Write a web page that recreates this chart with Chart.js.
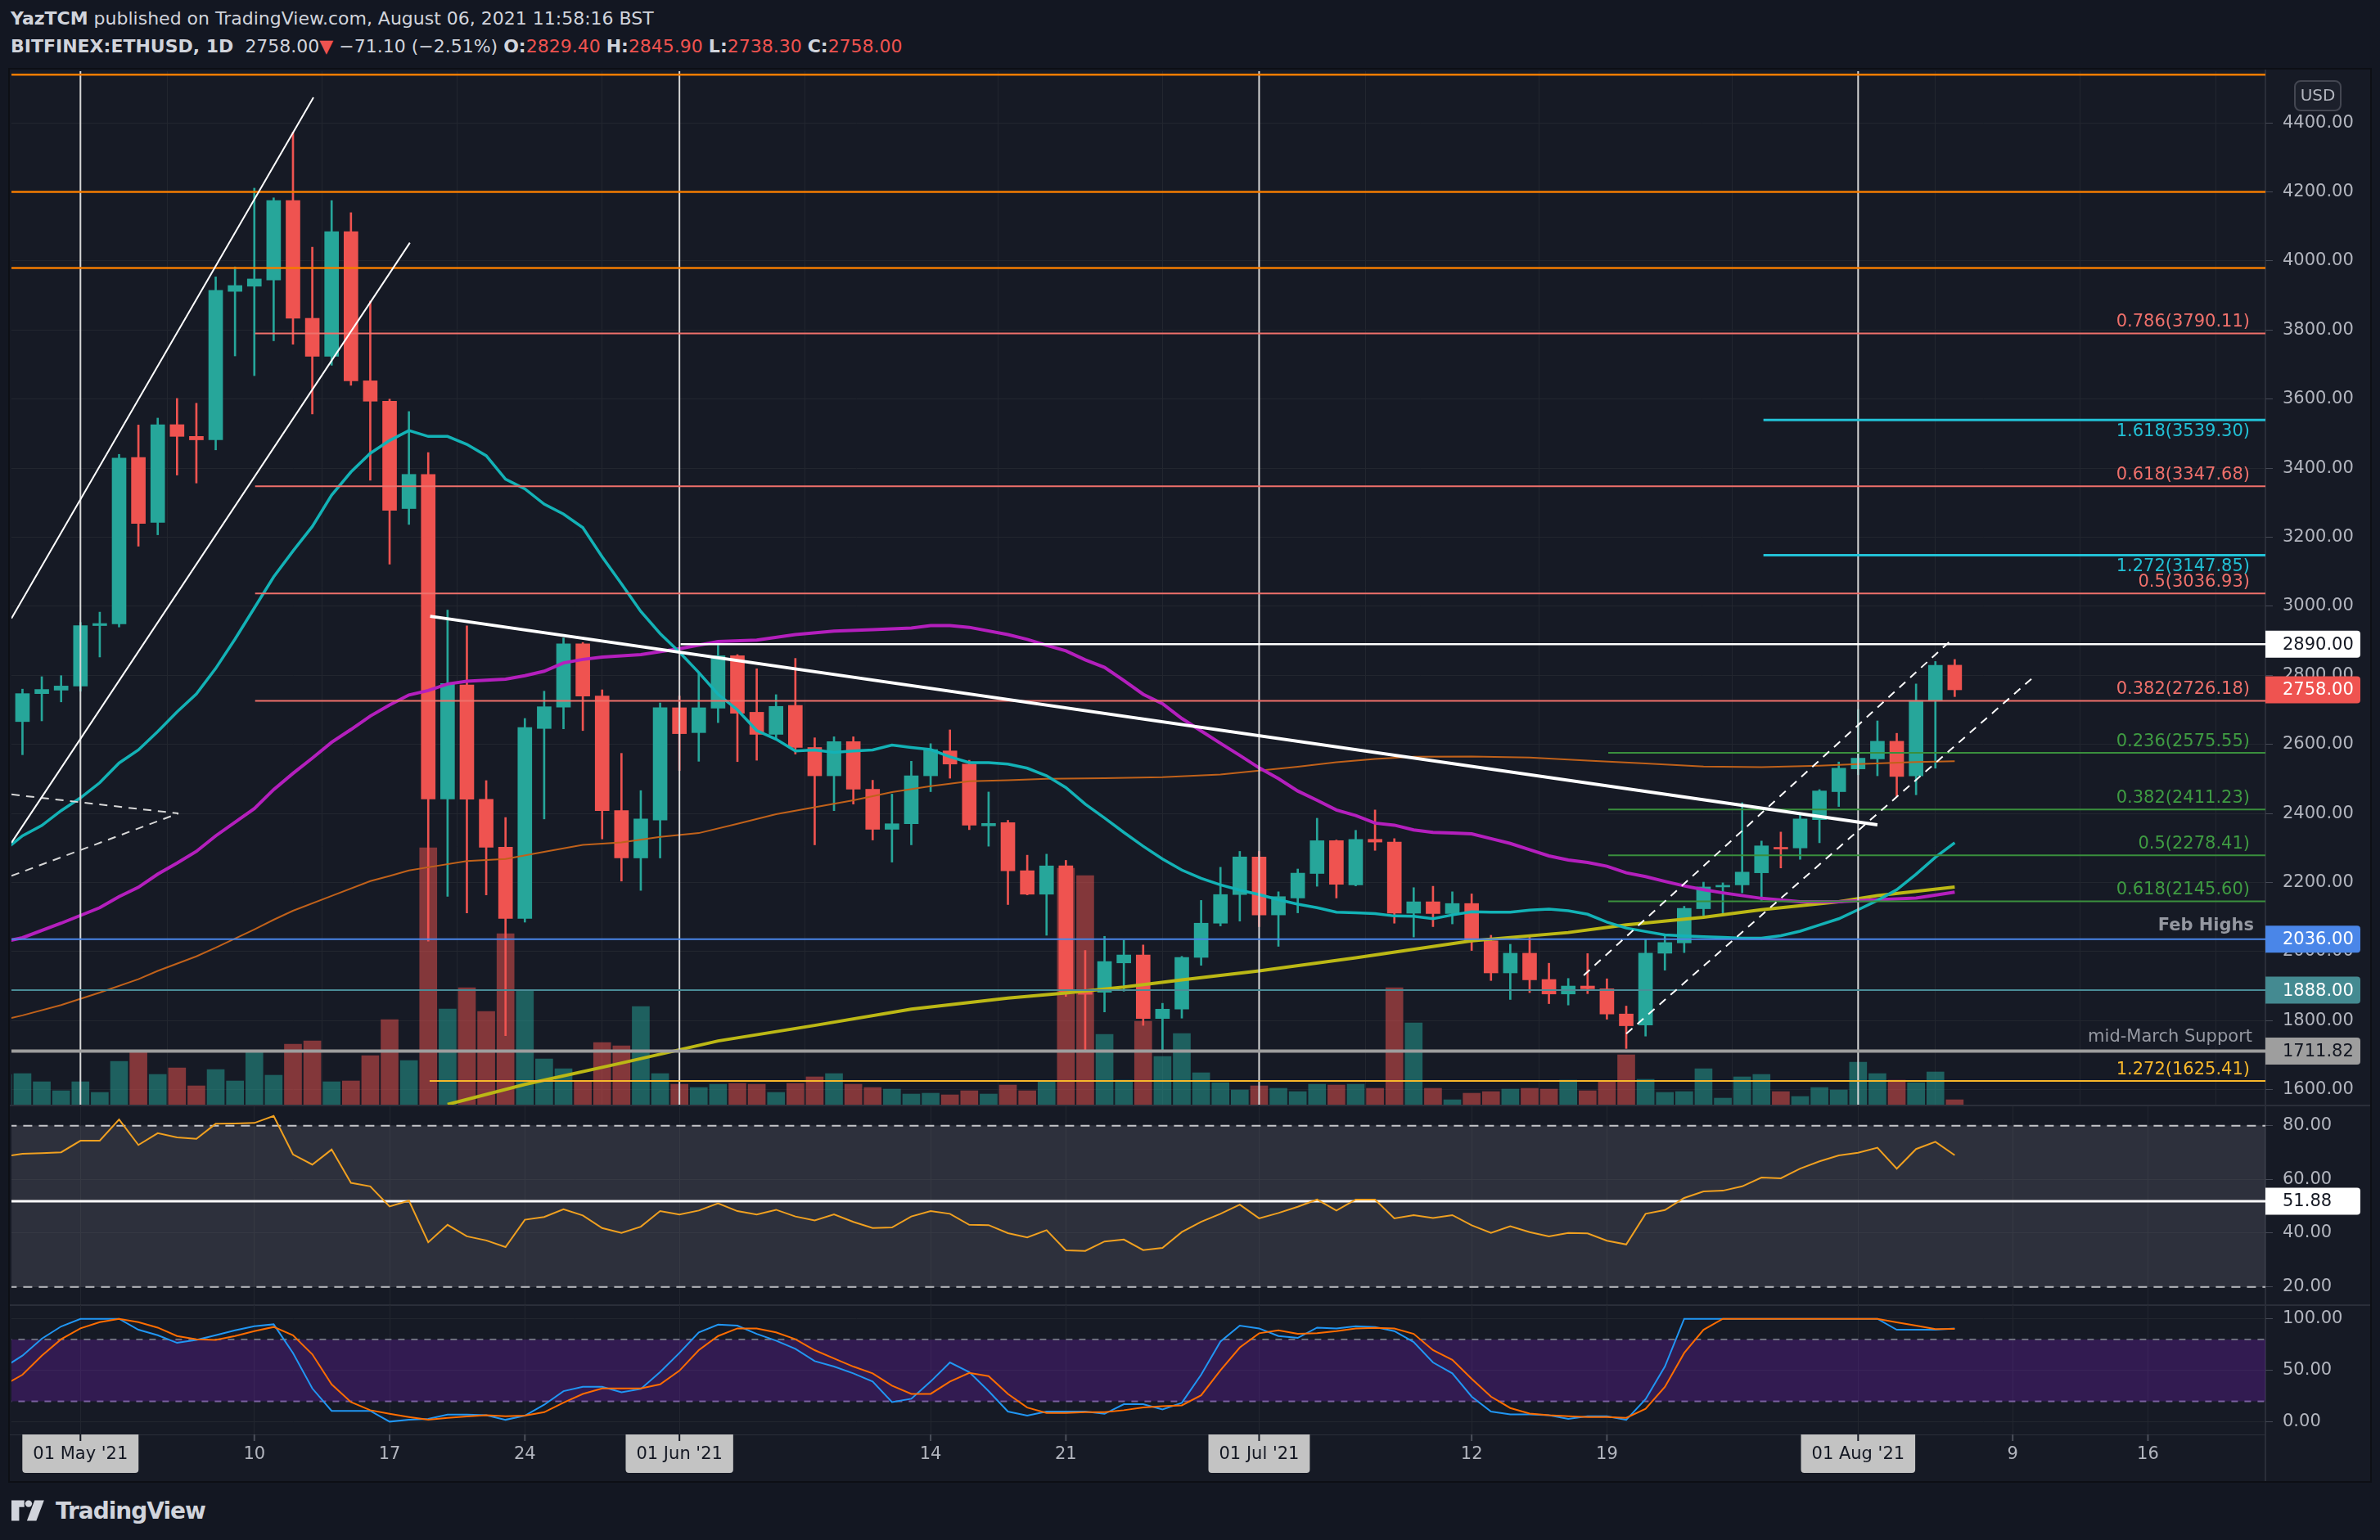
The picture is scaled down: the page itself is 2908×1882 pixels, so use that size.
<!DOCTYPE html>
<html>
<head>
<meta charset="utf-8">
<script src="https://cdn.jsdelivr.net/npm/chart.js@4.4.1/dist/chart.umd.min.js"></script>
<style>
  html, body { margin: 0; padding: 0; }
  body { width: 2908px; height: 1882px; position: relative; overflow: hidden; background: #131722;
         font-family: "DejaVu Sans", sans-serif; color: #d1d4dc; }
  .hdr { position: absolute; left: 13px; font-size: 22px; line-height: 26px; white-space: nowrap; }
  .dn { color: #ef5350; }
  #frame { position: absolute; left: 12px; top: 85px; width: 2884px; height: 1725px; background: #161a25;
           box-shadow: 0 0 0 2px #0d0f15; }
  .sep { position: absolute; background: #2a2e39; }
  canvas { position: absolute; left: 0; }
  #logo { position: absolute; left: 14px; top: 1829px; height: 34px; display: flex; align-items: center; }
  #logo span { font-weight: bold; font-size: 28px; margin-left: 10px; letter-spacing: -1px; color: #d1d4dc; }
</style>
</head>
<body>
<div class="hdr" style="top:10px"><b>YazTCM</b> published on TradingView.com, August 06, 2021 11:58:16 BST</div>
<div class="hdr" style="top:44px"><b>BITFINEX:ETHUSD, 1D</b>&nbsp; 2758.00<span class="dn">▼</span> −71.10 (−2.51%) <b>O:</b><span class="dn">2829.40</span> <b>H:</b><span class="dn">2845.90</span> <b>L:</b><span class="dn">2738.30</span> <b>C:</b><span class="dn">2758.00</span></div>
<div id="frame"></div>
<div class="sep" style="left:12px;top:1350px;width:2884px;height:2px"></div>
<div class="sep" style="left:12px;top:1594px;width:2884px;height:2px"></div>
<div class="sep" style="left:12px;top:1753px;width:2755px;height:1px"></div>
<div class="sep" style="left:2767px;top:85px;width:2px;height:1725px"></div>
<canvas id="price" width="2896" height="1263" style="top:87px"></canvas>
<canvas id="rsi" width="2896" height="242" style="top:1352px"></canvas>
<canvas id="stoch" width="2896" height="213" style="top:1595px"></canvas>
<div id="logo">
  <svg width="44" height="26" viewBox="0 0 42 24"><path fill="#d1d4dc" d="M0 0h15v8H9v16H0V8z"/><circle cx="20" cy="4" r="4" fill="#d1d4dc"/><path fill="#d1d4dc" d="M27 0h11l-9 24H18z"/></svg>
  <span>TradingView</span>
</div>
<script>
// ---- daily candles, 27 Apr 2021 .. 06 Aug 2021 (day 0 = 01 May) ----
const firstDay = -4;
const opens = [2535,2666,2747,2757,2769,2944,2949,3431,3243,3526,
  3492,3482,3912,3927,3945,4175,3834,3724,4085,3653,
  3594,3283,3382,2442,2772,2441,2302,2096,2646,2708,
  2891,2740,2408,2271,2381,2706,2634,2705,2857,2693,
  2629,2713,2591,2509,2608,2470,2354,2370,2509,2581,
  2543,2364,2373,2234,2166,2248,1884,1882,1967,1990,
  1806,1833,1983,2082,2165,2274,2106,2155,2226,2321,
  2193,2325,2317,2111,2144,2110,2139,2031,1938,1995,
  1919,1877,1900,1892,1819,1787,1995,2025,2124,2187,
  2193,2228,2300,2300,2382,2463,2529,2558,2609,2509,
  2727,2829.4];
const highs = [2680,2760,2796,2799,2953,2983,3440,3525,3545,3602,
  3588,3954,3983,4211,4183,4373,4040,4175,4140,3884,
  3600,3564,3445,2989,2943,2495,2388,2675,2754,2908,
  2895,2758,2574,2466,2720,2740,2806,2887,2860,2819,
  2744,2849,2619,2622,2622,2496,2456,2551,2602,2642,
  2554,2462,2380,2279,2282,2264,2003,2044,2033,2019,
  1850,1986,2148,2244,2290,2290,2173,2239,2386,2323,
  2351,2410,2327,2185,2189,2173,2167,2047,2021,2042,
  1966,1922,1994,1921,1842,2035,2051,2131,2201,2199,
  2431,2320,2346,2402,2469,2549,2701,2668,2632,2775,
  2840,2845.9];
const lows = [2510,2570,2668,2723,2754,2853,2940,3174,3207,3380,
  3357,3453,3725,3668,3769,3759,3557,3698,3640,3365,
  3122,3237,2030,2160,2112,2164,1756,2085,2384,2645,
  2640,2326,2204,2177,2271,2524,2551,2663,2550,2554,
  2615,2572,2309,2408,2427,2323,2259,2309,2463,2502,
  2353,2305,2136,2164,2047,1870,1715,1825,1885,1786,
  1715,1807,1960,2074,2088,2072,2015,2112,2189,2155,
  2190,2293,2082,2042,2072,2080,2003,1916,1861,1881,
  1849,1845,1878,1804,1719,1755,1946,1997,2103,2110,
  2170,2148,2242,2267,2315,2420,2512,2509,2449,2454,
  2531,2738.3];
const closes = [2662,2747,2759,2769,2944,2950,3429,3240,3526,3492,
  3482,3915,3929,3948,4175,3834,3724,4085,3653,3594,
  3278,3382,2442,2776,2441,2302,2096,2649,2709,2891,
  2740,2408,2271,2384,2706,2631,2706,2857,2690,2629,
  2710,2591,2509,2608,2470,2354,2370,2509,2585,2543,
  2366,2371,2234,2166,2248,1884,1876,1971,1990,1806,
  1833,1983,2082,2165,2274,2106,2159,2227,2321,2195,
  2325,2317,2111,2144,2110,2139,2031,1938,1995,1918,
  1877,1900,1892,1819,1785,1995,2026,2125,2187,2191,
  2230,2306,2297,2384,2465,2531,2560,2609,2507,2727,
  2829,2758];
const volumes = [37,38,28,17,28,15,53,64,37,45,
  23,43,29,64,36,74,78,28,29,60,
  104,54,314,117,143,114,209,140,56,44,
  29,76,72,120,38,25,21,25,26,25,
  15,26,34,38,25,21,19,13,14,12,
  17,13,24,17,28,289,280,86,30,102,
  59,87,39,27,18,23,20,16,25,24,
  25,20,143,100,20,6,14,16,19,20,
  19,30,17,28,61,31,15,16,44,8,
  34,37,16,10,21,18,52,38,30,27,
  40,6];
const rsi = [68.5,69.5,69.8,70.1,74.4,74.4,82.3,72.8,77.2,75.6,
  75.1,80.7,80.8,81.0,83.6,69.3,65.5,71.1,58.7,57.4,
  49.9,52.1,36.6,43.1,38.8,37.3,34.8,45.0,46.0,48.9,
  46.6,41.9,40.1,42.4,48.2,46.9,48.4,51.1,48.2,46.9,
  48.7,46.2,44.7,47.0,44.2,41.9,42.1,46.2,48.2,47.2,
  43.1,43.0,40.0,38.4,41.1,33.6,33.4,36.9,37.6,33.7,
  34.5,40.4,44.2,47.2,50.6,45.5,47.5,49.8,52.5,48.4,
  52.5,52.5,45.5,46.7,45.6,46.7,42.9,40.1,42.6,40.4,
  38.8,40.1,39.9,37.2,35.8,47.2,48.6,53.1,55.5,55.8,
  57.4,60.7,60.4,64.0,66.7,68.9,69.9,71.8,64.0,71.3,
  74.0,69.0];
const stochK = [52.4,64.3,80.7,92.6,100,100,100,89.4,84.1,76.7,
  79.6,84.1,88.9,92.9,94.7,66.9,32.5,10.8,10.8,10.8,
  0.3,2.1,2.9,7.1,7.1,6.6,2.1,6.1,16.7,29.9,
  34.1,34.1,28.8,32,48.4,66.9,86.8,94.4,93.4,85.4,
  78.8,70.9,59,53.7,47.1,39.2,19.3,22.5,39.2,57.7,
  48.4,29.9,10.1,6.1,10.1,10.1,10.1,7.9,17.2,17.2,
  12.2,18.5,45.8,78,93.4,90.7,83.3,81.5,91.5,90.7,
  92.9,92.1,88.1,77.5,57.7,47.1,24.6,10.1,7.4,7.4,
  6.6,2.9,5.6,5.6,2.1,22,53.7,100,100,100,
  100,100,100,100,100,100,100,100,89.4,89.4,
  89.4,90.7];
const stochD = [35.2,45.8,64.3,80.2,90.7,96.8,100,96.8,91.5,83.3,
  80.2,79.6,83.3,88.1,92.1,84.1,65.6,36.5,19.3,11.4,
  7.9,4.8,2.1,4,5.3,6.6,5.6,6.1,9.5,18.8,
  27.2,32.5,32.5,32.5,36.5,49.7,69.6,83.3,90.7,90.7,
  86.8,80.2,69.6,61.6,53.7,47.1,35.2,27.2,27.2,39.2,
  47.6,44.4,27.2,14,8.7,8.7,9.5,9.5,11.4,14,
  15.3,16.1,25.9,50,72.2,86,88.9,85.4,86,88.1,
  90.7,91.3,90.7,85.4,69.6,60.3,41.8,24.6,13.5,8.2,
  6.6,5.6,4.8,4.8,4,12.7,33.9,66.9,89.4,100,
  100,100,100,100,100,100,100,100,96.6,93.4,
  90,90.2];

// ---- moving averages: [day, price] ----
const ema20 = [[-4,2290],[-3,2335],[-2,2365],[-1,2408],[0,2445],[1,2489],[2,2546],[3,2584],[4,2637],[5,2694],
  [6,2746],[7,2820],[8,2905],[9,2995],[10,3085],[11,3160],[12,3231],[13,3322],[14,3389],[15,3443],
  [16,3480],[17,3509],[18,3492],[19,3492],[20,3469],[21,3436],[22,3368],[23,3340],[24,3296],[25,3267],
  [26,3228],[27,3143],[28,3065],[29,2985],[30,2921],[31,2867],[32,2808],[33,2745],[34,2700],[35,2640],
  [36,2615],[37,2581],[38,2584],[39,2577],[40,2581],[41,2584],[42,2598],[43,2591],[44,2585],[45,2564],
  [46,2547],[47,2547],[48,2543],[49,2531],[50,2509],[51,2475],[52,2427],[53,2387],[54,2345],[55,2305],
  [56,2268],[57,2236],[58,2212],[59,2193],[60,2178],[61,2165],[62,2150],[63,2137],[64,2127],[65,2114],
  [66,2112],[67,2110],[68,2103],[69,2102],[70,2095],[71,2106],[72,2115],[73,2114],[74,2114],[75,2120],
  [76,2123],[77,2118],[78,2108],[79,2085],[80,2068],[81,2058],[82,2048],[83,2045],[84,2043],[85,2041],
  [86,2039],[87,2039],[88,2046],[89,2059],[90,2077],[91,2095],[92,2121],[93,2148],[94,2179],[95,2224],
  [96,2273],[97,2315]];
const sma50 = [[-4,2028],[-3,2040],[-1,2082],[1,2127],[2,2159],[3,2186],[4,2224],[5,2256],[6,2290],[7,2335],
  [9,2414],[10,2469],[11,2516],[12,2560],[13,2606],[14,2643],[15,2682],[16,2714],[17,2743],[18,2756],
  [19,2775],[20,2783],[22,2789],[23,2799],[24,2812],[25,2836],[26,2846],[27,2853],[29,2860],[31,2877],
  [33,2898],[35,2902],[37,2918],[39,2928],[41,2932],[43,2937],[44,2944],[45,2944],[46,2939],[48,2918],
  [49,2904],[50,2887],[51,2871],[52,2845],[53,2823],[54,2785],[55,2745],[56,2718],[57,2675],[58,2639],
  [59,2603],[60,2568],[61,2532],[62,2501],[63,2465],[64,2438],[65,2410],[66,2394],[67,2372],[68,2366],
  [69,2352],[70,2345],[71,2343],[72,2341],[73,2327],[74,2313],[75,2295],[76,2277],[77,2265],[78,2258],
  [79,2247],[80,2228],[81,2217],[82,2203],[83,2190],[84,2179],[85,2170],[87,2154],[89,2144],[91,2144],
  [93,2150],[95,2155],[97,2172]];
const sma100 = [[-4,1802],[-3,1815],[-1,1845],[1,1881],[3,1920],[4,1944],[6,1986],[7,2011],[9,2064],[10,2092],
  [11,2118],[13,2161],[15,2204],[16,2219],[17,2235],[18,2244],[20,2262],[22,2268],[24,2289],[26,2309],
  [28,2316],[30,2332],[32,2343],[34,2370],[36,2398],[38,2418],[40,2438],[42,2462],[44,2479],[46,2493],
  [48,2496],[50,2500],[53,2502],[56,2505],[59,2513],[61,2524],[63,2535],[65,2548],[67,2558],[69,2564],
  [72,2565],[75,2562],[78,2553],[81,2545],[84,2536],[87,2534],[90,2538],[92,2543],[95,2549],[97,2551]];
const sma200 = [[19,1557],[23,1615],[28,1677],[33,1741],[38,1786],[43,1833],[48,1865],[51,1880],[54,1897],
  [57,1918],[61,1944],[66,1982],[72,2031],[77,2055],[80,2077],[84,2099],[87,2121],[91,2144],[93,2162],[97,2187]];

// ---- drawings ----
const channelUpper = [[-3.57,2965],[12.06,4474]];
const channelLower = [[-3.57,2315],[17.05,4053]];
const wedgeTop = [[-3.57,2455],[5.07,2400]];
const wedgeBottom = [[-3.57,2219],[5.07,2400]];
const downTrend = [[18.1,2971],[93.0,2367]];
const riseUpper = [[77.8,1931],[96.9,2906]];
const riseLower = [[80.0,1762],[101.1,2796]];
const monthStarts = [0, 31, 61, 92];

const orangeLevels = [4540, 4200, 3980];
const redFibRatios = ['0.786', '0.618', '0.5', '0.382'];
const redFibPrices = [3790.11, 3347.68, 3036.93, 2726.18];
const cyanFibRatios = ['1.618', '1.272'];
const cyanFibPrices = [3539.30, 3147.85];
const greenFibRatios = ['0.236', '0.382', '0.5', '0.618'];
const greenFibPrices = [2575.55, 2411.23, 2278.41, 2145.60];
const yellowFibRatios = ['1.272'];
const yellowFibPrices = [1625.41];
const resistance = 2890, febHigh = 2036, support1888 = 1888, midMarch = 1711.82, lastPrice = 2758;
const rsiLevel = 51.88;

// ---- axes ----
const xMin = -3.57, xMax = 113.08;
const xTickDays = [0, 9, 16, 23, 31, 44, 51, 61, 72, 79, 92, 100, 107];
const xTickLabels = ["01 May '21", "10", "17", "24", "01 Jun '21", "14", "21", "01 Jul '21", "12", "19", "01 Aug '21", "9", "16"];
const priceTicks = [1600,1800,2000,2200,2400,2600,2800,3000,3200,3400,3600,3800,4000,4200,4400];
const rsiTicks = [80, 60, 40, 20];
const stochTicks = [100, 50, 0];

const FONT = '21px "DejaVu Sans"';
const AXIS_TXT = '#b2b5be';
const UP = '#26a69a', DOWN = '#ef5350';

const xs = opens.map((_, i) => firstDay + i);
const isUp = closes.map((c, i) => c >= opens[i]);
const candleCol = isUp.map(u => u ? UP : DOWN);
const volCol = isUp.map(u => u ? 'rgba(38,166,154,0.5)' : 'rgba(239,83,80,0.5)');

const pts = arr => arr.map(([x, y]) => ({x, y}));
const series = vals => vals.map((y, i) => ({x: xs[i], y}));
function line(data, color, width, order, dash) {
  return {type: 'line', data, borderColor: color, borderWidth: width, pointRadius: 0,
          borderDash: dash || [], order, tension: 0, fill: false};
}
function hLine(value, from, color, width, order, dash) {
  return line([{x: from, y: value}, {x: xMax + 2, y: value}], color, width, order, dash);
}

function baseOptions(yMin, yMax, yTicks, xHeight) {
  return {
    responsive: false, animation: false,
    layout: {padding: {left: 14, right: 0, top: 0, bottom: 0}},
    plugins: {legend: {display: false}, tooltip: {enabled: false}},
    scales: {
      x: {type: 'linear', min: xMin, max: xMax, offset: false,
          grid: {color: '#22262f', drawTicks: false}, border: {display: false},
          ticks: {display: false},
          afterBuildTicks: s => { s.ticks = xTickDays.map(v => ({value: v})); },
          afterFit: s => { s.height = xHeight; }},
      y: {position: 'right', min: yMin, max: yMax,
          grid: {color: '#22262f', tickColor: '#454955', tickLength: 9},
          border: {display: false}, ticks: {display: false},
          afterBuildTicks: s => { s.ticks = yTicks.map(v => ({value: v})); },
          afterFit: s => { s.width = 128; }}
    }
  };
}

function tag(ctx, ax, py, text, bg, fg) {
  ctx.fillStyle = bg;
  ctx.beginPath();
  ctx.roundRect(ax, py - 16.5, 116, 33, [0, 4, 4, 0]);
  ctx.fill();
  ctx.fillStyle = fg;
  ctx.fillText(text, ax + 21, py + 1);
}

function axisPlugin(id, ticks, tags, extra) {
  return {
    id,
    afterDraw(chart) {
      const {ctx, chartArea} = chart;
      const y = chart.scales.y, ax = chartArea.right;
      ctx.save();
      if (extra) extra(chart);
      ctx.font = FONT;
      ctx.textBaseline = 'middle';
      ctx.textAlign = 'left';
      ctx.fillStyle = AXIS_TXT;
      ticks.forEach(v => ctx.fillText(v.toFixed(2), ax + 21, y.getPixelForValue(v)));
      tags.forEach(t => tag(ctx, ax, y.getPixelForValue(t[0]), t[1], t[2], t[3]));
      ctx.restore();
    }
  };
}

function fibText(ctx, y, ratios, prices, color, below) {
  ctx.fillStyle = color;
  ctx.textAlign = 'right';
  ctx.textBaseline = below ? 'top' : 'bottom';
  ratios.forEach((r, i) => {
    const py = y.getPixelForValue(prices[i]);
    ctx.fillText(r + '(' + prices[i].toFixed(2) + ')', 2749, below ? py + 4 : py - 3);
  });
}

function priceExtras(chart) {
  const {ctx, chartArea} = chart;
  const y = chart.scales.y;
  ctx.font = FONT;
  fibText(ctx, y, redFibRatios, redFibPrices, '#ef706b', false);
  fibText(ctx, y, cyanFibRatios, cyanFibPrices, '#22c1d6', true);
  fibText(ctx, y, greenFibRatios, greenFibPrices, '#3f9c42', false);
  fibText(ctx, y, yellowFibRatios, yellowFibPrices, '#f9b82b', false);
  ctx.fillStyle = '#9598a1';
  ctx.textBaseline = 'bottom';
  ctx.font = 'bold 21px "DejaVu Sans"';
  ctx.fillText('Feb Highs', 2754, y.getPixelForValue(febHigh) - 6);
  ctx.font = FONT;
  ctx.fillText('mid-March Support', 2752, y.getPixelForValue(midMarch) - 6);
  // currency badge
  const bx = chartArea.right + 36, by = chartArea.top + 12;
  ctx.beginPath();
  ctx.roundRect(bx, by, 56, 36, 7);
  ctx.fillStyle = '#1c202b';
  ctx.fill();
  ctx.strokeStyle = '#434651';
  ctx.lineWidth = 2;
  ctx.stroke();
  ctx.fillStyle = AXIS_TXT;
  ctx.textAlign = 'center';
  ctx.textBaseline = 'middle';
  ctx.font = '20px "DejaVu Sans"';
  ctx.fillText('USD', bx + 28, by + 19);
}

// ---- price pane ----
const priceDatasets = [
  {type: 'bar', data: series(volumes), yAxisID: 'v', backgroundColor: volCol, barThickness: 21, grouped: false, order: 100},
  {type: 'bar', data: xs.map((x, i) => ({x, y: [lows[i], highs[i]]})), backgroundColor: candleCol, barThickness: 2, grouped: false, order: 90},
  {type: 'bar', data: xs.map((x, i) => ({x, y: [opens[i], closes[i]]})), backgroundColor: candleCol, barThickness: 17, grouped: false, minBarLength: 2, order: 80},
  line(pts(sma100), '#c0611a', 2, 60),
  line(pts(sma200), '#bcb815', 4, 55),
  line(pts(sma50), '#b41fbd', 4, 50),
  line(pts(ema20), '#13b2b6', 3.5, 45),
];
monthStarts.forEach(d => priceDatasets.push(line([{x: d, y: 1400}, {x: d, y: 4700}], '#d6d6d6', 2, 40)));
orangeLevels.forEach(v => priceDatasets.push(hLine(v, xMin - 1, '#f57c00', 2.5, 30)));
redFibPrices.forEach(v => priceDatasets.push(hLine(v, 9.04, '#ef706b', 2, 30)));
cyanFibPrices.forEach(v => priceDatasets.push(hLine(v, 87.1, '#22c1d6', 3, 30)));
greenFibPrices.forEach(v => priceDatasets.push(hLine(v, 79.07, '#3a8f3d', 2, 30)));
yellowFibPrices.forEach(v => priceDatasets.push(hLine(v, 18.07, '#f9b82b', 2, 30)));
priceDatasets.push(hLine(febHigh, xMin - 1, '#4a86e8', 2, 30));
priceDatasets.push(hLine(support1888, xMin - 1, '#4a8c97', 2, 30));
priceDatasets.push(hLine(midMarch, xMin - 1, '#9e9e9e', 4, 30));
priceDatasets.push(hLine(resistance, 31.06, '#ffffff', 2.5, 25));
priceDatasets.push(line(pts(channelUpper), '#ffffff', 2, 20));
priceDatasets.push(line(pts(channelLower), '#ffffff', 2, 20));
priceDatasets.push(line(pts(wedgeTop), '#d8d8d8', 2, 20, [10, 8]));
priceDatasets.push(line(pts(wedgeBottom), '#d8d8d8', 2, 20, [10, 8]));
priceDatasets.push(line(pts(riseUpper), '#ffffff', 2, 20, [10, 8]));
priceDatasets.push(line(pts(riseLower), '#ffffff', 2, 20, [10, 8]));
priceDatasets.push(line(pts(downTrend), '#ffffff', 4, 15));

const priceOpts = baseOptions(1556.4, 4549.8, priceTicks, 0);
priceOpts.scales.v = {display: false, min: 0, max: 1263};
new Chart(document.getElementById('price'), {
  type: 'bar',
  data: {datasets: priceDatasets},
  options: priceOpts,
  plugins: [axisPlugin('priceAxis', priceTicks, [
    [resistance, resistance.toFixed(2), '#ffffff', '#131722'],
    [lastPrice, lastPrice.toFixed(2), '#ef5350', '#ffffff'],
    [febHigh, febHigh.toFixed(2), '#4a86e8', '#ffffff'],
    [support1888, support1888.toFixed(2), '#448a91', '#ffffff'],
    [midMarch, midMarch.toFixed(2), '#9e9e9e', '#131722'],
  ], priceExtras)]
});

// ---- RSI pane ----
new Chart(document.getElementById('rsi'), {
  type: 'line',
  data: {datasets: [
    Object.assign(hLine(80, xMin - 1, '#c4c5c9', 2, 30, [11, 8]), {fill: '+1', backgroundColor: 'rgba(120,123,134,0.24)'}),
    hLine(20, xMin - 1, '#c4c5c9', 2, 31, [11, 8]),
    hLine(rsiLevel, xMin - 1, '#ffffff', 3, 20),
    line(series(rsi), '#f0a020', 2, 10),
  ]},
  options: baseOptions(13.5, 87.2, rsiTicks, 0),
  plugins: [axisPlugin('rsiAxis', rsiTicks, [[rsiLevel, rsiLevel.toFixed(2), '#ffffff', '#131722']])]
});

// ---- Stoch RSI pane ----
const dateAxis = {
  id: 'dateAxis',
  afterDraw(chart) {
    const {ctx, chartArea} = chart;
    const x = chart.scales.x;
    const top = chartArea.bottom;
    ctx.save();
    ctx.font = FONT;
    ctx.textAlign = 'center';
    ctx.textBaseline = 'middle';
    xTickDays.forEach((d, i) => {
      const px = x.getPixelForValue(d);
      const label = xTickLabels[i];
      const isMonth = label.length > 3;
      if (isMonth) {
        const w = ctx.measureText(label).width + 26;
        ctx.fillStyle = '#c3c3c3';
        ctx.beginPath();
        ctx.roundRect(px - w / 2, top, w, 47, [0, 0, 4, 4]);
        ctx.fill();
      }
      ctx.fillStyle = isMonth ? '#131722' : '#4b4f5a';
      ctx.fillRect(px - 1, top, 2, 8);
      ctx.fillStyle = isMonth ? '#131722' : AXIS_TXT;
      ctx.fillText(label, px, top + 25);
    });
    ctx.restore();
  }
};
new Chart(document.getElementById('stoch'), {
  type: 'line',
  data: {datasets: [
    Object.assign(hLine(80, xMin - 1, '#6f7280', 2, 30, [8, 8]), {fill: '+1', backgroundColor: 'rgba(126,33,200,0.27)'}),
    hLine(20, xMin - 1, '#7a6a9a', 2, 31, [8, 8]),
    line(series(stochD), '#ff6d00', 2, 10),
    line(series(stochK), '#2196f3', 2, 11),
  ]},
  options: baseOptions(-12.1, 113.25, stochTicks, 55),
  plugins: [axisPlugin('stochAxis', stochTicks, []), dateAxis]
});
</script>
</body>
</html>
